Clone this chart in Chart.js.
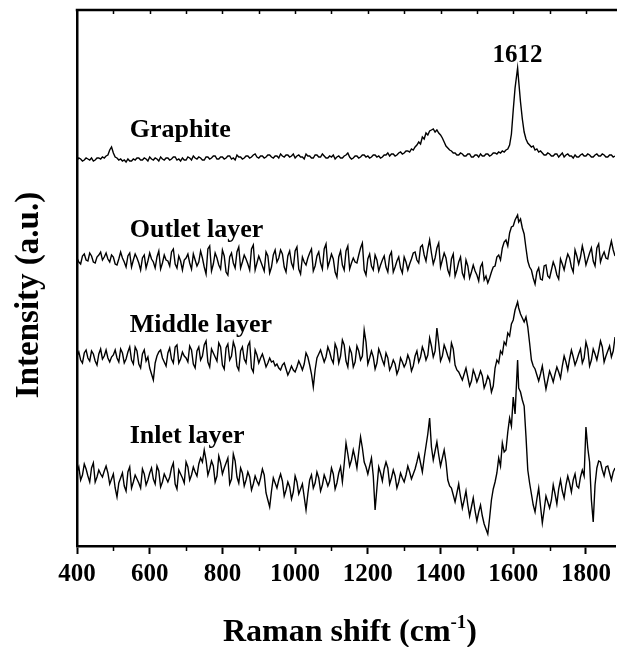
<!DOCTYPE html>
<html>
<head>
<meta charset="utf-8">
<title>Raman spectra</title>
<script src="https://cdn.jsdelivr.net/npm/chart.js@4.4.0/dist/chart.umd.min.js"></script>
<style>
    html, body { margin: 0; padding: 0; background: #fff; }
    #wrap { width: 617px; height: 647px; }
</style>
</head>
<body>
<div id="wrap"><canvas id="ramanChart" width="617" height="647"></canvas></div>
<script>
// Raman shift (cm-1)
const shifts = [
    400, 405, 410, 415, 420, 425, 430, 435, 440, 445, 450, 455, 460, 465, 470, 475, 480, 485, 490, 495,
    500, 505, 510, 515, 520, 525, 530, 535, 540, 545, 550, 555, 560, 565, 570, 575, 580, 585, 590, 595,
    600, 605, 610, 615, 620, 625, 630, 635, 640, 645, 650, 655, 660, 665, 670, 675, 680, 685, 690, 695,
    700, 705, 710, 715, 720, 725, 730, 735, 740, 745, 750, 755, 760, 765, 770, 775, 780, 785, 790, 795,
    800, 805, 810, 815, 820, 825, 830, 835, 840, 845, 850, 855, 860, 865, 870, 875, 880, 885, 890, 895,
    900, 905, 910, 915, 920, 925, 930, 935, 940, 945, 950, 955, 960, 965, 970, 975, 980, 985, 990, 995,
    1000, 1005, 1010, 1015, 1020, 1025, 1030, 1035, 1040, 1045, 1050, 1055, 1060, 1065, 1070, 1075, 1080, 1085, 1090, 1095,
    1100, 1105, 1110, 1115, 1120, 1125, 1130, 1135, 1140, 1145, 1150, 1155, 1160, 1165, 1170, 1175, 1180, 1185, 1190, 1195,
    1200, 1205, 1210, 1215, 1220, 1225, 1230, 1235, 1240, 1245, 1250, 1255, 1260, 1265, 1270, 1275, 1280, 1285, 1290, 1295,
    1300, 1305, 1310, 1315, 1320, 1325, 1330, 1335, 1340, 1345, 1350, 1355, 1360, 1365, 1370, 1375, 1380, 1385, 1390, 1395,
    1400, 1405, 1410, 1415, 1420, 1425, 1430, 1435, 1440, 1445, 1450, 1455, 1460, 1465, 1470, 1475, 1480, 1485, 1490, 1495,
    1500, 1505, 1510, 1515, 1520, 1525, 1530, 1535, 1540, 1545, 1550, 1555, 1560, 1565, 1570, 1575, 1580, 1585, 1590, 1595,
    1600, 1605, 1612, 1615, 1620, 1625, 1630, 1635, 1640, 1645, 1650, 1655, 1660, 1665, 1670, 1675, 1680, 1685, 1690, 1695,
    1700, 1705, 1710, 1715, 1720, 1725, 1730, 1735, 1740, 1745, 1750, 1755, 1760, 1765, 1770, 1775, 1780, 1785, 1790, 1795,
    1800, 1805, 1810, 1815, 1820, 1825, 1830, 1835, 1840, 1845, 1850, 1855, 1860, 1865, 1870, 1875, 1880
];

// intensities (a.u.), spectra already stacked with their offsets
const graphite = [
    386, 388, 387, 385, 386, 388, 387, 386, 388, 385, 386, 388, 388, 387, 389, 388, 390, 391, 396, 399,
    393, 389, 388, 386, 387, 385, 386, 384, 387, 385, 385, 387, 386, 388, 388, 386, 386, 388, 387, 385,
    389, 387, 386, 388, 387, 385, 389, 387, 386, 388, 388, 386, 387, 389, 389, 386, 387, 385, 388, 386,
    386, 389, 388, 386, 390, 388, 387, 389, 388, 386, 386, 389, 389, 387, 388, 390, 390, 387, 387, 389,
    389, 387, 388, 390, 390, 387, 388, 386, 391, 389, 389, 387, 388, 390, 390, 388, 389, 391, 392, 389,
    388, 390, 390, 388, 389, 391, 391, 389, 388, 390, 390, 388, 392, 390, 389, 391, 391, 389, 390, 392,
    388, 390, 391, 389, 389, 387, 392, 390, 390, 388, 388, 391, 391, 389, 389, 392, 390, 388, 388, 390,
    389, 391, 387, 389, 390, 388, 388, 390, 391, 393, 389, 387, 388, 390, 390, 388, 389, 391, 391, 389,
    390, 388, 389, 391, 391, 389, 390, 388, 389, 391, 391, 393, 390, 392, 392, 390, 391, 393, 394, 392,
    393, 395, 395, 394, 397, 396, 399, 401, 404, 402, 409, 407, 413, 411, 415, 416, 417, 414, 416, 413,
    411, 408, 404, 400, 398, 396, 395, 393, 393, 391, 391, 393, 392, 390, 390, 392, 392, 389, 389, 391,
    391, 389, 392, 390, 390, 392, 392, 390, 391, 393, 393, 392, 394, 393, 395, 394, 396, 397, 401, 412,
    436, 458, 478, 465, 444, 427, 414, 407, 403, 401, 399, 400, 396, 397, 394, 395, 393, 391, 391, 393,
    392, 390, 390, 392, 392, 389, 391, 393, 389, 391, 392, 390, 390, 388, 391, 389, 389, 391, 392, 390,
    390, 392, 391, 389, 389, 391, 392, 390, 390, 392, 391, 389, 389, 391, 391, 389, 390
];

const outletLayer = [
    288, 284, 282, 290, 292, 286, 285, 293, 290, 284, 283, 289, 291, 294, 286, 289, 293, 287, 284, 291,
    289, 282, 281, 287, 294, 288, 284, 279, 290, 293, 279, 286, 292, 288, 283, 276, 288, 291, 278, 285,
    293, 287, 284, 278, 289, 295, 277, 283, 291, 286, 285, 280, 294, 297, 282, 278, 290, 285, 276, 286,
    288, 292, 283, 277, 292, 286, 280, 284, 295, 288, 279, 272, 297, 300, 275, 282, 293, 288, 281, 277,
    296, 290, 274, 271, 289, 293, 283, 278, 294, 299, 278, 284, 291, 287, 282, 276, 297, 301, 276, 283,
    290, 285, 280, 275, 294, 290, 273, 279, 291, 296, 284, 288, 296, 292, 279, 274, 290, 295, 283, 278,
    295, 299, 277, 272, 289, 284, 281, 288, 293, 297, 275, 280, 290, 294, 283, 277, 297, 302, 279, 285,
    292, 287, 274, 269, 289, 295, 281, 276, 295, 300, 277, 283, 288, 284, 283, 291, 298, 303, 276, 271,
    287, 292, 280, 276, 291, 286, 275, 281, 286, 290, 279, 274, 290, 294, 274, 279, 285, 289, 278, 273,
    289, 284, 276, 282, 287, 293, 294, 286, 283, 299, 301, 291, 285, 297, 306, 293, 282, 288, 298, 303,
    279, 286, 293, 288, 276, 271, 287, 292, 270, 276, 284, 289, 273, 268, 286, 280, 268, 274, 281, 275,
    271, 265, 279, 283, 266, 270, 263, 268, 274, 279, 280, 289, 291, 286, 298, 304, 306, 300, 313, 319,
    320, 326, 331, 324, 327, 318, 312, 298, 285, 279, 276, 268, 262, 274, 278, 267, 266, 280, 281, 270,
    268, 276, 284, 279, 271, 267, 287, 282, 276, 285, 292, 288, 279, 274, 296, 290, 282, 289, 300, 292,
    281, 287, 293, 298, 285, 280, 298, 302, 284, 290, 294, 288, 287, 297, 305, 296, 290
];

const middleLayer = [
    190, 194, 186, 183, 193, 196, 188, 185, 195, 192, 185, 181, 192, 197, 187, 190, 196, 188, 184, 189,
    191, 196, 188, 184, 197, 193, 183, 187, 194, 199, 186, 182, 199, 195, 182, 178, 192, 196, 185, 189,
    178, 172, 166, 183, 190, 194, 196, 188, 184, 180, 193, 198, 187, 183, 199, 201, 183, 187, 194, 190,
    188, 184, 200, 196, 182, 178, 195, 199, 186, 190, 201, 205, 184, 179, 197, 193, 189, 185, 203, 199,
    181, 177, 198, 202, 186, 190, 204, 198, 180, 176, 195, 199, 187, 183, 200, 204, 178, 174, 196, 191,
    183, 188, 192, 186, 179, 183, 188, 184, 185, 180, 182, 178, 176, 181, 183, 177, 171, 175, 180, 176,
    174, 179, 185, 181, 176, 182, 193, 189, 181, 172, 159, 176, 188, 192, 196, 190, 184, 189, 199, 194,
    187, 183, 202, 197, 183, 190, 206, 201, 185, 179, 198, 193, 179, 184, 200, 195, 186, 190, 216, 204,
    182, 188, 195, 189, 177, 183, 197, 192, 186, 181, 193, 188, 176, 180, 186, 182, 172, 177, 188, 184,
    179, 183, 191, 186, 175, 180, 190, 195, 184, 189, 199, 194, 186, 191, 208, 200, 189, 195, 218, 203,
    185, 190, 201, 196, 190, 185, 203, 197, 181, 176, 174, 170, 166, 172, 178, 169, 160, 165, 176, 171,
    164, 169, 175, 170, 158, 163, 170, 166, 154, 160, 178, 186, 183, 195, 192, 204, 201, 213, 210, 222,
    226, 236, 244, 238, 232, 228, 224, 229, 219, 203, 186, 180, 177, 171, 165, 172, 180, 168, 157, 166,
    175, 170, 164, 172, 179, 174, 168, 180, 190, 184, 176, 187, 196, 189, 181, 186, 192, 197, 183, 188,
    204, 197, 180, 186, 197, 192, 186, 195, 205, 199, 184, 190, 195, 200, 189, 195, 209
];

const inletLayer = [
    74, 79, 66, 71, 82, 77, 70, 64, 78, 83, 64, 69, 76, 72, 69, 75, 80, 73, 62, 67,
    72, 58, 49, 63, 68, 73, 60, 55, 74, 79, 58, 64, 71, 67, 63, 58, 77, 72, 61, 66,
    73, 78, 67, 62, 80, 75, 59, 64, 72, 68, 64, 69, 78, 83, 62, 57, 76, 72, 68, 63,
    84, 79, 66, 71, 79, 74, 70, 82, 88, 84, 96, 86, 71, 77, 85, 80, 64, 70, 90, 83,
    72, 78, 83, 88, 62, 67, 92, 85, 69, 63, 78, 73, 60, 66, 74, 69, 56, 62, 70, 65,
    61, 68, 77, 71, 53, 46, 39, 55, 68, 63, 58, 66, 72, 65, 50, 56, 64, 59, 47, 54,
    70, 64, 52, 57, 62, 49, 36, 52, 66, 71, 58, 63, 74, 68, 55, 61, 71, 66, 60, 65,
    78, 72, 57, 63, 73, 79, 64, 82, 103, 92, 80, 86, 96, 88, 78, 94, 109, 98, 84, 79,
    72, 80, 88, 70, 36, 58, 79, 73, 65, 77, 84, 78, 62, 68, 76, 70, 58, 64, 73, 68,
    64, 71, 80, 74, 67, 72, 77, 84, 92, 83, 74, 88, 100, 112, 128, 99, 86, 95, 104, 91,
    80, 88, 96, 84, 66, 60, 58, 51, 44, 53, 62, 49, 38, 46, 55, 41, 30, 39, 48, 35,
    25, 34, 41, 30, 22, 17, 12, 28, 46, 57, 64, 73, 88, 80, 103, 94, 96, 114, 128, 120,
    149, 132, 186, 158, 154, 146, 140, 110, 76, 63, 52, 41, 34, 47, 58, 40, 23, 36, 50, 44,
    38, 46, 61, 52, 42, 57, 66, 55, 48, 61, 70, 63, 54, 66, 72, 60, 58, 69, 76, 70,
    119, 98, 84, 46, 24, 61, 78, 85, 84, 76, 70, 79, 80, 73, 66, 74, 78
];

const seriesNames = ['Graphite', 'Outlet layer', 'Middle layer', 'Inlet layer'];
const xTickLabels = [400, 600, 800, 1000, 1200, 1400, 1600, 1800];
const gBandPeak = 1612;

document.addEventListener('DOMContentLoaded', function() {
    const serif = '"Liberation Serif", "Times New Roman", serif';
    Chart.defaults.font.family = serif;
    Chart.defaults.color = '#000';

    // where the spectrum names sit (cm-1, a.u. baseline)
    const nameX = 545;
    const nameLevels = [409, 309, 214, 103];

    function toPoints(values) {
        return values.map((v, i) => ({ x: shifts[i], y: v }));
    }

    const datasets = [graphite, outletLayer, middleLayer, inletLayer].map((values, i) => ({
        label: seriesNames[i],
        data: toPoints(values),
        borderColor: '#000',
        borderWidth: 1.4,
        pointRadius: 0,
        tension: 0,
        fill: false
    }));

    // top frame with inward ticks, short outward minors on the bottom axis
    const frameTicks = {
        id: 'frameTicks',
        afterDraw(chart) {
            const ctx = chart.ctx;
            const area = chart.chartArea;
            const x = chart.scales.x;
            ctx.save();
            ctx.strokeStyle = '#000';
            ctx.lineWidth = 2.5;
            ctx.beginPath();
            ctx.moveTo(area.left - 1.25, area.top);
            ctx.lineTo(chart.width, area.top);
            ctx.stroke();
            ctx.lineWidth = 1.5;
            ctx.beginPath();
            for (let v = 500; v <= 1800; v += 100) {
                const px = Math.round(x.getPixelForValue(v)) + 0.5;
                ctx.moveTo(px, area.top);
                ctx.lineTo(px, area.top + 4);
                if (v % 200 !== 0) {
                    ctx.moveTo(px, area.bottom);
                    ctx.lineTo(px, area.bottom + 5);
                }
            }
            ctx.stroke();
            ctx.restore();
        }
    };

    const spectrumText = {
        id: 'spectrumText',
        afterDraw(chart) {
            const ctx = chart.ctx;
            const area = chart.chartArea;
            const x = chart.scales.x;
            const y = chart.scales.y;
            ctx.save();
            ctx.fillStyle = '#000';
            ctx.textBaseline = 'alphabetic';

            ctx.font = 'bold 26px ' + serif;
            ctx.textAlign = 'left';
            seriesNames.forEach((name, i) => {
                ctx.fillText(name, x.getPixelForValue(nameX), y.getPixelForValue(nameLevels[i]));
            });

            // G band position above its peak
            const peakValue = graphite[shifts.indexOf(gBandPeak)];
            ctx.font = 'bold 25px ' + serif;
            ctx.textAlign = 'center';
            ctx.fillText(String(gBandPeak), x.getPixelForValue(gBandPeak), y.getPixelForValue(peakValue + 6));

            // x axis title with superscript
            const mainFont = 'bold 32px ' + serif;
            const supFont = 'bold 19px ' + serif;
            const head = 'Raman shift (cm';
            const sup = '-1';
            const tail = ')';
            ctx.font = mainFont;
            const wHead = ctx.measureText(head).width;
            const wTail = ctx.measureText(tail).width;
            ctx.font = supFont;
            const wSup = ctx.measureText(sup).width;
            const base = 641;
            const left = (area.left + area.right) / 2 + 4 - (wHead + wSup + wTail) / 2;
            ctx.textAlign = 'left';
            ctx.font = mainFont;
            ctx.fillText(head, left, base);
            ctx.font = supFont;
            ctx.fillText(sup, left + wHead, base - 13);
            ctx.font = mainFont;
            ctx.fillText(tail, left + wHead + wSup, base);

            // y axis title
            ctx.translate(29, (area.top + area.bottom) / 2 + 17);
            ctx.rotate(-Math.PI / 2);
            ctx.font = 'bold 33px ' + serif;
            ctx.textAlign = 'center';
            ctx.textBaseline = 'middle';
            ctx.fillText('Intensity (a.u.)', 0, 0);
            ctx.restore();
        }
    };

    new Chart(document.getElementById('ramanChart'), {
        type: 'line',
        data: { datasets: datasets },
        options: {
            responsive: false,
            animation: false,
            layout: { padding: { top: 10, right: 1, left: 0, bottom: 0 } },
            plugins: {
                legend: { display: false },
                tooltip: { enabled: false }
            },
            scales: {
                x: {
                    type: 'linear',
                    min: 400,
                    max: 1880,
                    afterBuildTicks: function(scale) {
                        scale.ticks = xTickLabels.map(v => ({ value: v }));
                    },
                    afterFit: function(scale) { scale.height = 101; },
                    ticks: {
                        padding: 6,
                        font: { size: 25, weight: 'bold' },
                        color: '#000',
                        maxRotation: 0,
                        callback: function(value) { return String(value); }
                    },
                    grid: {
                        drawOnChartArea: false,
                        drawTicks: true,
                        tickLength: 8,
                        tickWidth: 2,
                        color: '#000'
                    },
                    border: { display: true, color: '#000', width: 2.5 }
                },
                y: {
                    min: 0,
                    max: 536,
                    afterFit: function(scale) { scale.width = 77; },
                    ticks: { display: false },
                    grid: { display: false },
                    border: { display: true, color: '#000', width: 2.5 }
                }
            }
        },
        plugins: [frameTicks, spectrumText]
    });
});
</script>
</body>
</html>
